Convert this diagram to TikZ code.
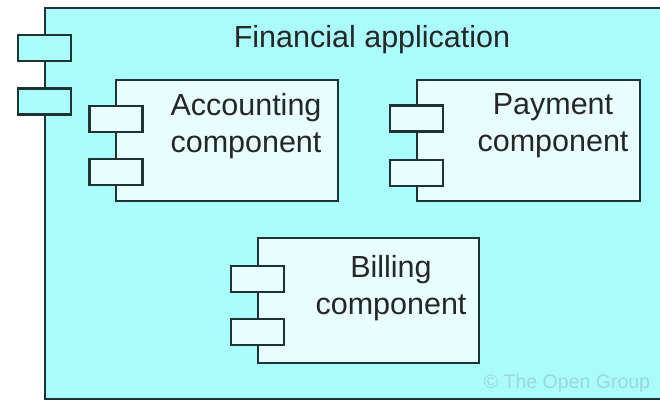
\documentclass[tikz,border=0pt]{standalone}
\usepackage{fontspec}
\setmainfont{Liberation Sans}
\definecolor{appbg}{HTML}{AAFCFC}
\definecolor{compbg}{HTML}{E8FEFE}
\definecolor{edge}{HTML}{1F3333}
\definecolor{copyc}{HTML}{9CD6DA}
\begin{document}
\begin{tikzpicture}[x=1pt,y=-1pt,
  appbox/.style={draw=edge,fill=appbg,line width=2.8pt,rectangle,inner sep=0pt},
  compbox/.style={draw=edge,fill=compbg,line width=2.8pt,rectangle,inner sep=0pt},
  portbox/.style={draw=edge,line width=2.8pt,rectangle,inner sep=0pt,minimum width=53pt,minimum height=26pt},
  lbl/.style={font=\fontsize{30.5}{37}\selectfont,text=black!85,align=center,inner sep=0pt},
  copy/.style={font=\fontsize{19.5}{22}\selectfont,text=copyc,inner sep=0pt}]
\useasboundingbox (0,0) rectangle (660,401);
\fill[white] (0,0) rectangle (660,401);
\clip (0,0) rectangle (660,401);
% application frame (right side runs off the picture)
\node[appbox,minimum width=640pt,minimum height=391pt] (app) at (365,203.5) {};
\node[portbox,fill=appbg] (ap1) at (44.5,48) {};
\node[portbox,fill=appbg] (ap2) at (44.5,101.5) {};
\node[lbl] (apptitle) at (372,40) {Financial application};
% accounting
\node[compbox,minimum width=222pt,minimum height=121pt] (acc) at (227,140.5) {};
\node[portbox,fill=compbg] (acp1) at (116,119) {};
\node[portbox,fill=compbg] (acp2) at (116,172) {};
\node[lbl] (acct) at (246,126) {Accounting\\component};
% payment
\node[compbox,minimum width=223pt,minimum height=121pt] (pay) at (528.5,140.5) {};
\node[portbox,fill=compbg] (pap1) at (416.5,118.5) {};
\node[portbox,fill=compbg] (pap2) at (416.5,173) {};
\node[lbl] (payt) at (553,126) {Payment\\component};
% billing
\node[compbox,minimum width=221pt,minimum height=125pt] (bil) at (368.5,300.5) {};
\node[portbox,fill=compbg] (bip1) at (257.5,279) {};
\node[portbox,fill=compbg] (bip2) at (257.5,332) {};
\node[lbl] (bilt) at (391,288) {Billing\\component};
% copyright
\node[copy,anchor=base] (cpy) at (567,388) {© The Open Group};
\end{tikzpicture}
\end{document}
